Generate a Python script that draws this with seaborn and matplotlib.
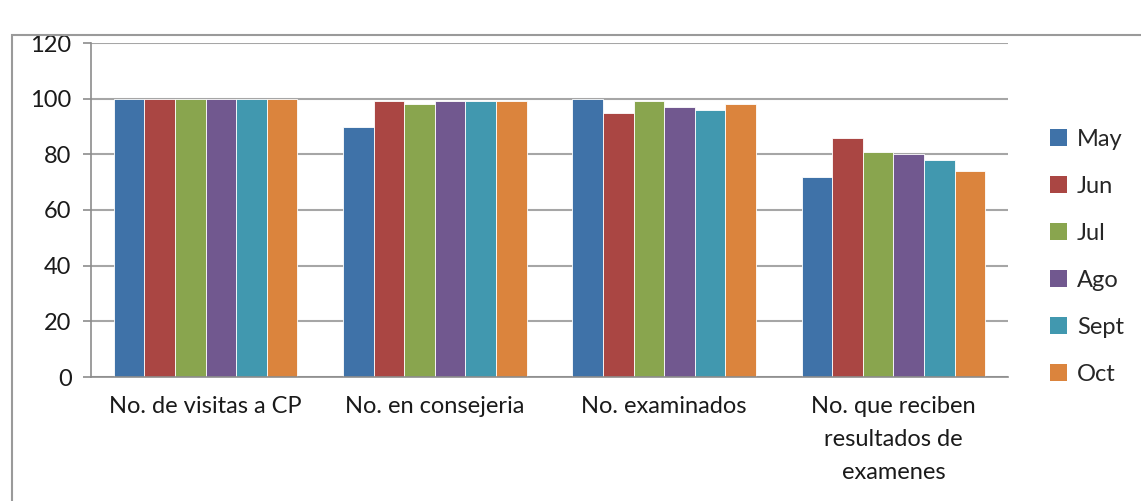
import matplotlib
matplotlib.use("Agg")
import matplotlib.pyplot as plt
import seaborn as sns
import pandas as pd
from matplotlib.patches import Rectangle, Patch

categories = ["No. de visitas a CP", "No. en consejeria", "No. examinados",
              "No. que reciben\nresultados de\nexamenes"]
months = ["May", "Jun", "Jul", "Ago", "Sept", "Oct"]
values = {
    "May":  [100, 90, 100, 72],
    "Jun":  [100, 99, 95, 86],
    "Jul":  [100, 98, 99, 81],
    "Ago":  [100, 99, 97, 80],
    "Sept": [100, 99, 96, 78],
    "Oct":  [100, 99, 98, 74],
}
colors = ["#3F72A8", "#AA4643", "#89A54E", "#71588F", "#4198AF", "#DB843D"]
yticks = [0, 20, 40, 60, 80, 100, 120]

rows = []
for m in months:
    for c, v in zip(categories, values[m]):
        rows.append({"cat": c, "month": m, "val": v})
df = pd.DataFrame(rows)

sns.set_theme(style="white")
plt.rcParams["font.family"] = ["Lato", "DejaVu Sans"]

FS = 17
fig = plt.figure(figsize=(11.41, 5.01), dpi=100)
fig.patch.set_facecolor("white")
fig.patches.append(Rectangle((12/1141, -0.05), 1.1, 1 - 35/501 + 0.05,
                             transform=fig.transFigure, fill=False,
                             edgecolor="#9A9A9A", linewidth=1.5))
ax = fig.add_axes([91/1141, 1 - 377/501, (1008 - 91)/1141, (377 - 43)/501])

sns.barplot(data=df, x="cat", y="val", hue="month", hue_order=months,
            order=categories, palette=colors, width=0.8, ax=ax,
            edgecolor="white", linewidth=0.6, saturation=1, legend=True)

ax.set_ylim(0, 120)
ax.set_xlim(-0.5, 3.5)
ax.set_yticks(yticks)
ax.set_yticklabels([str(t) for t in yticks], fontsize=FS, color="#1a1a1a")
ax.yaxis.grid(True, color="#A6A6A6", linewidth=1.5)
ax.set_axisbelow(True)
ax.set_xlabel("")
ax.set_ylabel("")
ax.set_xticks(range(len(categories)))
ax.set_xticklabels(categories, fontsize=FS, color="#1a1a1a", linespacing=1.68)
ax.tick_params(axis="x", which="major", length=0, pad=14)
ax.set_xticks([-0.5, 0.5, 1.5, 2.5, 3.5], minor=True)
ax.tick_params(axis="x", which="minor", length=9, width=1.2, color="#8C8C8C", direction="out")
ax.tick_params(axis="y", length=6, width=1.2, color="#8C8C8C", direction="out", left=True, pad=8)
for s in ["top", "right"]:
    ax.spines[s].set_visible(False)
for s in ["left", "bottom"]:
    ax.spines[s].set_color("#8C8C8C")
    ax.spines[s].set_linewidth(1.2)

handles = [Patch(facecolor=c, edgecolor="none") for c in colors]
ax.legend(handles, months, loc="center left", bbox_to_anchor=(1.0224, 0.36),
          frameon=False, fontsize=FS, handlelength=0.75, handleheight=0.75,
          handletextpad=0.4, labelspacing=1.1)

fig.savefig("out.png", dpi=100)
